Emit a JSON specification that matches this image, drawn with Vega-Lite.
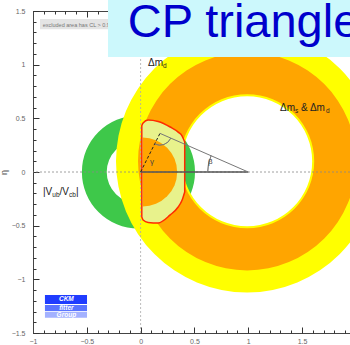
{
  "$schema": "https://vega.github.io/schema/vega-lite/v6.json",
  "width": 317,
  "height": 322,
  "autosize": {"type": "none"},
  "padding": {"left": 33, "top": 11, "right": 0, "bottom": 12},
  "background": "white",
  "config": {"view": {"stroke": null}, "font": "Liberation Sans", "axis": {"disable": true}},
  "resolve": {"axis": {"x": "independent", "y": "independent"}},
  "datasets": {
    "red": [
      {"x": 0.011, "top": 0.43, "bot": -0.42},
      {"x": 0.023, "top": 0.456, "bot": -0.447},
      {"x": 0.07, "top": 0.484, "bot": -0.47},
      {"x": 0.163, "top": 0.47, "bot": -0.475},
      {"x": 0.275, "top": 0.419, "bot": -0.4},
      {"x": 0.349, "top": 0.372, "bot": -0.326},
      {"x": 0.386, "top": 0.335, "bot": -0.261},
      {"x": 0.41, "top": 0.279, "bot": -0.186}
    ]
  },
  "layer": [
    {
      "data": {"values": [{"x": -0.02, "y": 0, "r": 0.526, "r2": 0.293}]},
      "mark": {"type": "arc", "theta": 0, "theta2": 6.2832, "fill": "#3ec84a"},
      "encoding": {
        "x": {"field": "x", "type": "quantitative", "scale": {"domain": [-1, 1.946], "nice": false, "zero": false},
          "axis": {"disable": false, "orient": "bottom", "values": [-1, -0.5, 0, 0.5, 1, 1.5], "format": "~g", "tickSize": -6, "tickColor": "#333", "domainColor": "#444", "labelFontSize": 7, "labelColor": "#666", "labelPadding": 10, "labelFlush": false, "labelOverlap": false, "title": null, "grid": false}},
        "y": {"field": "y", "type": "quantitative", "scale": {"domain": [-1.5, 1.5], "nice": false, "zero": false},
          "axis": {"disable": false, "orient": "left", "values": [-1.5, -1, -0.5, 0, 0.5, 1, 1.5], "format": "~g", "tickSize": -6, "tickColor": "#333", "domainColor": "#444", "labelFontSize": 7, "labelColor": "#666", "labelPadding": 14, "labelFlush": false, "labelOverlap": false, "title": "η", "titleFontSize": 9, "titleColor": "#555", "titleFontWeight": "normal", "titlePadding": 3, "grid": false}},
        "radius": {"field": "r", "type": "quantitative", "scale": {"type": "linear", "domain": [0, 1], "range": [0, 107.5], "zero": true}},
        "radius2": {"field": "r2"}
      }
    },
    {
      "data": {"values": [{"x": 0.99, "y": 0.1, "r": 1.22, "r2": 0.605}]},
      "mark": {"type": "arc", "theta": 0, "theta2": 6.2832, "fill": "#ffff00"},
      "encoding": {
        "x": {"field": "x", "type": "quantitative",
          "axis": {"disable": false, "orient": "bottom", "values": [-1, -0.9, -0.8, -0.7, -0.6, -0.5, -0.4, -0.3, -0.2, -0.1, 0, 0.1, 0.2, 0.3, 0.4, 0.5, 0.6, 0.7, 0.8, 0.9, 1, 1.1, 1.2, 1.3, 1.4, 1.5, 1.6, 1.7, 1.8, 1.9], "tickSize": -3, "tickColor": "#333", "labels": false, "domain": false, "title": null, "grid": false}},
        "y": {"field": "y", "type": "quantitative",
          "axis": {"disable": false, "orient": "left", "values": [-1.5, -1.4, -1.3, -1.2, -1.1, -1, -0.9, -0.8, -0.7, -0.6, -0.5, -0.4, -0.3, -0.2, -0.1, 0, 0.1, 0.2, 0.3, 0.4, 0.5, 0.6, 0.7, 0.8, 0.9, 1, 1.1, 1.2, 1.3, 1.4, 1.5], "tickSize": -3, "tickColor": "#333", "labels": false, "domain": false, "title": null, "grid": false}},
        "radius": {"field": "r", "type": "quantitative"},
        "radius2": {"field": "r2"}
      }
    },
    {
      "data": {"values": [{"x": 0.99, "y": 0.1, "r": 1.015, "r2": 0.624}]},
      "mark": {"type": "arc", "theta": 0, "theta2": 6.2832, "fill": "#ffa500"},
      "encoding": {
        "x": {"field": "x", "type": "quantitative",
          "axis": {"disable": false, "orient": "top", "values": [-1, -0.5, 0, 0.5, 1, 1.5], "tickSize": -6, "tickColor": "#333", "domainColor": "#444", "labels": false, "title": null, "grid": false}},
        "y": {"field": "y", "type": "quantitative"},
        "radius": {"field": "r", "type": "quantitative"},
        "radius2": {"field": "r2"}
      }
    },
    {
      "data": {"name": "red"},
      "mark": {"type": "area", "orient": "vertical", "interpolate": "monotone", "fill": "#e8f28c"},
      "encoding": {
        "x": {"field": "x", "type": "quantitative",
          "axis": {"disable": false, "orient": "top", "values": [-1, -0.9, -0.8, -0.7, -0.6, -0.5, -0.4, -0.3, -0.2, -0.1, 0, 0.1, 0.2, 0.3, 0.4, 0.5, 0.6, 0.7, 0.8, 0.9, 1, 1.1, 1.2, 1.3, 1.4, 1.5, 1.6, 1.7, 1.8, 1.9], "tickSize": -3, "tickColor": "#333", "labels": false, "domain": false, "title": null, "grid": false}},
        "y": {"field": "top", "type": "quantitative"},
        "y2": {"field": "bot"}
      }
    },
    {
      "data": {"values": [{"x": 0.02, "y": 0, "r": 0.32, "r2": 0}]},
      "mark": {"type": "arc", "theta": 0, "theta2": 3.1416, "fill": "#ffa500"},
      "encoding": {
        "x": {"field": "x", "type": "quantitative"},
        "y": {"field": "y", "type": "quantitative"},
        "radius": {"field": "r", "type": "quantitative"},
        "radius2": {"field": "r2"}
      }
    },
    {
      "data": {"name": "red"},
      "mark": {"type": "area", "orient": "vertical", "interpolate": "monotone", "fillOpacity": 0, "stroke": "#ff2a00", "strokeWidth": 1.5},
      "encoding": {
        "x": {"field": "x", "type": "quantitative"},
        "y": {"field": "top", "type": "quantitative"},
        "y2": {"field": "bot"}
      }
    },
    {
      "data": {"values": [{"y": 0}]},
      "mark": {"type": "rule", "stroke": "#888", "strokeWidth": 0.8, "strokeDash": [2, 2]},
      "encoding": {"y": {"field": "y", "type": "quantitative"}}
    },
    {
      "data": {"values": [{"x": 0}]},
      "mark": {"type": "rule", "stroke": "#aaa", "strokeWidth": 0.8, "strokeDash": [2, 2]},
      "encoding": {"x": {"field": "x", "type": "quantitative"}}
    },
    {
      "data": {"values": [{"x": 0, "y": 0, "x2": 1, "y2": 0}]},
      "mark": {"type": "rule", "stroke": "#555", "strokeWidth": 1.6},
      "encoding": {"x": {"field": "x", "type": "quantitative"}, "y": {"field": "y", "type": "quantitative"}, "x2": {"field": "x2"}, "y2": {"field": "y2"}}
    },
    {
      "data": {"values": [{"x": 0, "y": 0, "x2": 0.18, "y2": 0.36}]},
      "mark": {"type": "rule", "stroke": "#222", "strokeWidth": 1, "strokeDash": [3, 2]},
      "encoding": {"x": {"field": "x", "type": "quantitative"}, "y": {"field": "y", "type": "quantitative"}, "x2": {"field": "x2"}, "y2": {"field": "y2"}}
    },
    {
      "data": {"values": [{"x": 0.18, "y": 0.36, "x2": 1, "y2": 0}]},
      "mark": {"type": "rule", "stroke": "#777", "strokeWidth": 1},
      "encoding": {"x": {"field": "x", "type": "quantitative"}, "y": {"field": "y", "type": "quantitative"}, "x2": {"field": "x2"}, "y2": {"field": "y2"}}
    },
    {
      "data": {"values": [{"x": 1, "y": 0, "r": 0.377}]},
      "mark": {"type": "arc", "theta": 4.712, "theta2": 5.126, "filled": false, "stroke": "#777", "strokeWidth": 0.8},
      "encoding": {"x": {"field": "x", "type": "quantitative"}, "y": {"field": "y", "type": "quantitative"}, "radius": {"field": "r", "type": "quantitative"}, "radius2": {"field": "r"}}
    },
    {
      "data": {"values": [{"x": 0.18, "y": 0.36, "r": 0.11}]},
      "mark": {"type": "arc", "theta": 1.985, "theta2": 3.606, "filled": false, "stroke": "#777", "strokeWidth": 0.8},
      "encoding": {"x": {"field": "x", "type": "quantitative"}, "y": {"field": "y", "type": "quantitative"}, "radius": {"field": "r", "type": "quantitative"}, "radius2": {"field": "r"}}
    },
    {
      "data": {"values": [{"x": 0.648, "y": 0.093, "t": "β"}, {"x": 0.107, "y": 0.093, "t": "γ"}]},
      "mark": {"type": "text", "fontSize": 8, "color": "#444", "align": "center", "baseline": "middle"},
      "encoding": {"x": {"field": "x", "type": "quantitative"}, "y": {"field": "y", "type": "quantitative"}, "text": {"field": "t"}}
    },
    {
      "data": {"values": [
        {"x": 0.069, "y": 0.988, "t": "Δm"},
        {"x": 1.296, "y": 0.568, "t": "Δm"},
        {"x": 1.491, "y": 0.568, "t": "& Δm"},
        {"x": -0.907, "y": -0.214, "t": "|V"},
        {"x": -0.754, "y": -0.214, "t": "/V"},
        {"x": -0.6, "y": -0.214, "t": "|"}
      ]},
      "mark": {"type": "text", "fontSize": 10, "color": "#222", "align": "left", "baseline": "alphabetic"},
      "encoding": {"x": {"field": "x", "type": "quantitative"}, "y": {"field": "y", "type": "quantitative"}, "text": {"field": "t"}}
    },
    {
      "data": {"values": [
        {"x": 0.208, "y": 0.969, "t": "d"},
        {"x": 1.435, "y": 0.55, "t": "s"},
        {"x": 1.723, "y": 0.55, "t": "d"},
        {"x": -0.821, "y": -0.233, "t": "ub"},
        {"x": -0.665, "y": -0.233, "t": "cb"}
      ]},
      "mark": {"type": "text", "fontSize": 6.5, "color": "#222", "align": "left", "baseline": "alphabetic"},
      "encoding": {"x": {"field": "x", "type": "quantitative"}, "y": {"field": "y", "type": "quantitative"}, "text": {"field": "t"}}
    },
    {
      "data": {"values": [{"x": -0.935, "x2": -0.28, "y": 1.425, "y2": 1.33}]},
      "mark": {"type": "rect", "fill": "#e4e4e4"},
      "encoding": {"x": {"field": "x", "type": "quantitative"}, "x2": {"field": "x2"}, "y": {"field": "y", "type": "quantitative"}, "y2": {"field": "y2"}}
    },
    {
      "data": {"values": [{"x": -0.91, "y": 1.352, "t": "excluded area has CL > 0.95"}]},
      "mark": {"type": "text", "fontSize": 5.5, "color": "#777", "align": "left", "baseline": "alphabetic"},
      "encoding": {"x": {"field": "x", "type": "quantitative"}, "y": {"field": "y", "type": "quantitative"}, "text": {"field": "t"}}
    },
    {
      "data": {"values": [
        {"x": -0.889, "x2": -0.498, "y": -1.145, "y2": -1.229, "part": "a"},
        {"x": -0.889, "x2": -0.498, "y": -1.238, "y2": -1.294, "part": "b"},
        {"x": -0.889, "x2": -0.498, "y": -1.303, "y2": -1.359, "part": "c"}
      ]},
      "mark": {"type": "rect"},
      "encoding": {
        "x": {"field": "x", "type": "quantitative"}, "x2": {"field": "x2"},
        "y": {"field": "y", "type": "quantitative"}, "y2": {"field": "y2"},
        "color": {"field": "part", "type": "nominal", "scale": {"domain": ["a", "b", "c"], "range": ["#1f3cff", "#5a74ff", "#a3b1ff"]}, "legend": null}
      }
    },
    {
      "data": {"values": [{"x": -0.69, "y": -1.187, "t": "CKM"}, {"x": -0.69, "y": -1.266, "t": "fitter"}, {"x": -0.69, "y": -1.331, "t": "Group"}]},
      "mark": {"type": "text", "fontSize": 6.5, "fontWeight": "bold", "fontStyle": "italic", "color": "white", "align": "center", "baseline": "middle"},
      "encoding": {"x": {"field": "x", "type": "quantitative"}, "y": {"field": "y", "type": "quantitative"}, "text": {"field": "t"}}
    },
    {
      "data": {"values": [{"x": -0.303, "x2": 2.0, "y": 1.071, "y2": 1.62}]},
      "mark": {"type": "rect", "fill": "#ccf8fc"},
      "encoding": {"x": {"field": "x", "type": "quantitative"}, "x2": {"field": "x2"}, "y": {"field": "y", "type": "quantitative"}, "y2": {"field": "y2"}}
    },
    {
      "data": {"values": [{"x": -0.12, "y": 1.258, "t": "CP triangle"}]},
      "mark": {"type": "text", "font": "Liberation Sans", "fontSize": 47, "color": "#0000cc", "align": "left", "baseline": "alphabetic"},
      "encoding": {"x": {"field": "x", "type": "quantitative"}, "y": {"field": "y", "type": "quantitative"}, "text": {"field": "t"}}
    }
  ]
}
